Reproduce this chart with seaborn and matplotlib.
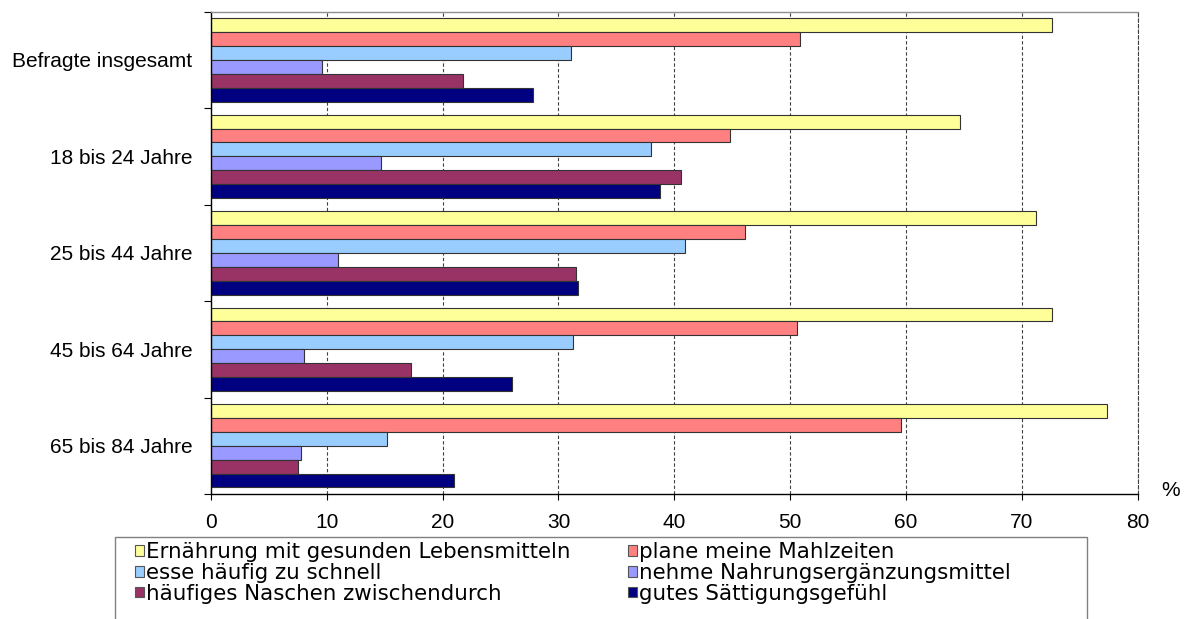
import matplotlib
matplotlib.use('Agg')
import matplotlib.pyplot as plt
from matplotlib.patches import Patch, Rectangle
import seaborn as sns
import pandas as pd

# Daten (Prozent)
gruppen = ['Befragte insgesamt', '18 bis 24 Jahre', '25 bis 44 Jahre',
           '45 bis 64 Jahre', '65 bis 84 Jahre']
merkmale = ['Ernährung mit gesunden Lebensmitteln', 'plane meine Mahlzeiten',
            'esse häufig zu schnell', 'nehme Nahrungsergänzungsmittel',
            'häufiges Naschen zwischendurch', 'gutes Sättigungsgefühl']
gesund = [72.6, 64.7, 71.2, 72.6, 77.4]
mahlzeiten = [50.9, 44.8, 46.1, 50.6, 59.6]
schnell = [31.1, 38.0, 40.9, 31.3, 15.2]
ergaenzung = [9.6, 14.7, 11.0, 8.0, 7.8]
naschen = [21.8, 40.6, 31.5, 17.3, 7.5]
saettigung = [27.8, 38.8, 31.7, 26.0, 21.0]
farben = ['#FFFF99', '#FF8080', '#99CCFF', '#9999FF', '#993366', '#000080']
x_ticks = [0, 10, 20, 30, 40, 50, 60, 70, 80]

reihen = [gesund, mahlzeiten, schnell, ergaenzung, naschen, saettigung]
df = pd.DataFrame({
    'gruppe': [g for r in reihen for g in gruppen],
    'merkmal': [m for m, r in zip(merkmale, reihen) for _ in r],
    'wert': [v for r in reihen for v in r],
})

plt.rcParams['font.family'] = ['Liberation Sans', 'DejaVu Sans']

W, H = 1190, 619
fig = plt.figure(figsize=(W / 100, H / 100), dpi=100)
ax = fig.add_axes([211 / W, 1 - 494 / H, (1137.5 - 211) / W, (494 - 11.7) / H])

sns.barplot(data=df, x='wert', y='gruppe', hue='merkmal', orient='h',
            order=gruppen, hue_order=merkmale, palette=farben, saturation=1,
            width=0.865, errorbar=None, edgecolor='#333333', linewidth=0.8,
            legend=False, ax=ax)

ax.set_xlim(0, 80)
ax.set_ylim(4.5, -0.5)
ax.set_xticks(x_ticks)
ax.set_xlabel('')
ax.set_ylabel('')
ax.set_axisbelow(True)
ax.xaxis.grid(True, linestyle=(0, (3, 2)), color='#404040', linewidth=0.8)
ax.yaxis.grid(False)

ax.tick_params(axis='x', direction='out', length=4.5, width=0.8, pad=9,
               labelsize=15, colors='black')
ax.tick_params(axis='y', which='major', length=0, pad=13.5, labelsize=15)
ax.set_yticks([i - 0.5 for i in range(len(gruppen) + 1)], minor=True)
ax.tick_params(axis='y', which='minor', direction='out', length=5, width=0.8,
               color='black')

ax.spines['left'].set_color('black')
ax.spines['bottom'].set_color('black')
ax.spines['left'].set_linewidth(1)
ax.spines['bottom'].set_linewidth(1)
ax.spines['top'].set_color('#909090')
ax.spines['top'].set_linewidth(1)
ax.spines['right'].set_color('#404040')
ax.spines['right'].set_linestyle((0, (3, 2)))
ax.spines['right'].set_linewidth(0.8)

fig.text(1171 / W, 1 - 491 / H, '%', ha='center', va='center', fontsize=15)

# Legende: zwei Spalten, zeilenweise gelesen (breitere Schrift wie im Original)
handles = [Patch(facecolor=c, edgecolor='#555555', linewidth=0.8) for c in farben]
leg_kw = dict(loc='upper left', frameon=False, borderpad=0, borderaxespad=0,
              handlelength=0.4, handleheight=0.4, handletextpad=0.12,
              labelspacing=0.04,
              prop={'family': ['DejaVu Sans'], 'size': 15.4})
for spalte, x0 in [(0, 135), (1, 628)]:
    idx = [spalte, spalte + 2, spalte + 4]
    fig.legend([handles[i] for i in idx], [merkmale[i] for i in idx],
               bbox_to_anchor=(x0 / W, 1 - 542 / H), **leg_kw)

fig.add_artist(Rectangle((115 / W, -0.1), (1087 - 115) / W, 0.1 + 1 - 536.7 / H,
                         transform=fig.transFigure, fill=False,
                         edgecolor='#808080', linewidth=1))

fig.savefig('out.png', dpi=100)
